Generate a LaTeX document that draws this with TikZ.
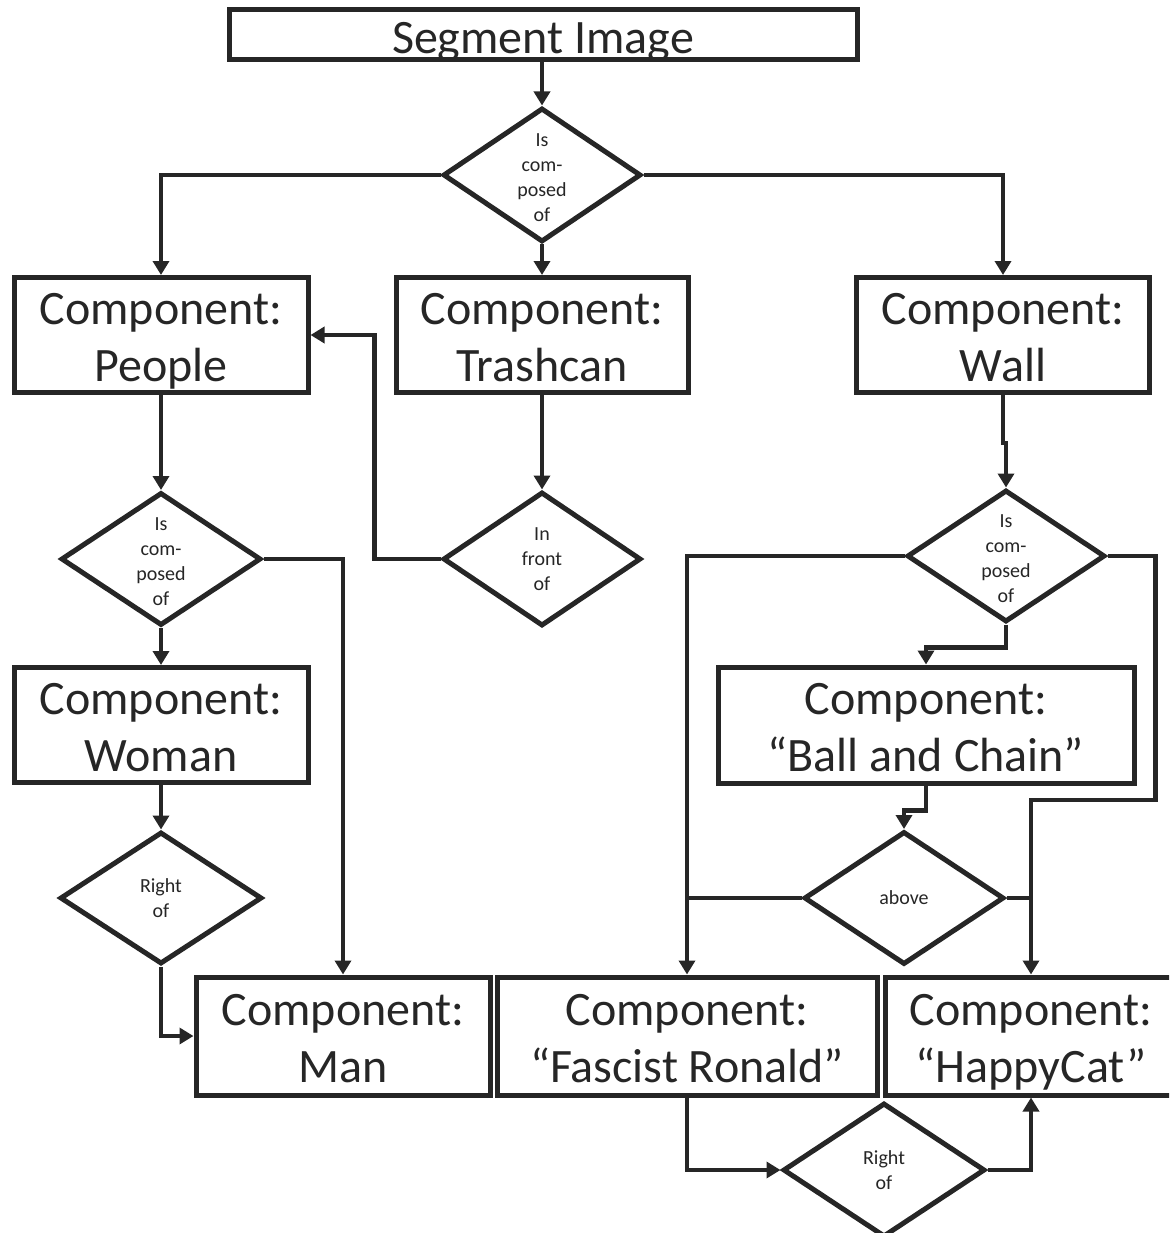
\documentclass[tikz,border=0pt]{standalone}
\usepackage{fontspec}
\setmainfont{Carlito}
\usetikzlibrary{shapes.geometric,arrows.meta,calc}
\definecolor{ink}{RGB}{38,38,38}
\newcommand\boxstrut{\rule[-11pt]{0pt}{45pt}}
\begin{document}
\begin{tikzpicture}[x=1pt,y=-1pt,
  box/.style={draw=ink, line width=5pt, inner sep=0pt},
  btxt/.style={text=ink, align=center, inner sep=0pt, yshift=-8pt,
    font=\fontsize{48}{57}\selectfont,
    execute at begin node=\boxstrut, execute at end node=\boxstrut},
  dia/.style={diamond, draw=ink, line width=5pt, inner sep=0pt},
  dlab/.style={text=ink, align=center, inner sep=0pt, font=\fontsize{20}{25}\selectfont},
  dlabf/.style={dlab, yshift=-3pt},
  conn/.style={draw=ink, line width=4.5pt},
  arr/.style={conn, -{Triangle[length=14pt,width=16pt]}}
]
\useasboundingbox (0,0) rectangle (1169,1233);
\clip (0,0) rectangle (1169,1233);

% boxes
\node[box, minimum width=628pt, minimum height=50pt,
  label={[btxt, yshift=1pt]center:Segment Image}] (seg) at (543,35) {};
\node[box, minimum width=294pt, minimum height=115pt,
  label={[btxt]center:{Component:\\People}}] (people) at (161,335) {};
\node[box, minimum width=292pt, minimum height=115pt,
  label={[btxt]center:{Component:\\Trashcan}}] (trash) at (542,335) {};
\node[box, minimum width=293pt, minimum height=115pt,
  label={[btxt]center:{Component:\\Wall}}] (wall) at (1003,335) {};
\node[box, minimum width=294pt, minimum height=115pt,
  label={[btxt]center:{Component:\\Woman}}] (woman) at (161,725) {};
\node[box, minimum width=416pt, minimum height=116pt,
  label={[btxt]center:{Component:\\``Ball and Chain''}}] (bnc) at (926,725) {};
\node[box, minimum width=294pt, minimum height=118pt,
  label={[btxt]center:{Component:\\Man}}] (man) at (343,1036) {};
\node[box, minimum width=380pt, minimum height=118pt,
  label={[btxt]center:{Component:\\``Fascist Ronald''}}] (fasc) at (687,1036) {};
\node[box, minimum width=292pt, minimum height=118pt,
  label={[btxt]center:{Component:\\``HappyCat''}}] (happy) at (1031,1036) {};

% diamonds
\node[dia, minimum width=198pt, minimum height=134pt,
  label={[dlabf]center:{Is\\com-\\posed\\of}}] (d1) at (542,175) {};
\node[dia, minimum width=200pt, minimum height=133pt,
  label={[dlabf]center:{Is\\com-\\posed\\of}}] (d2) at (161,559) {};
\node[dia, minimum width=198pt, minimum height=134pt,
  label={[dlab]center:{In\\front\\of}}] (d3) at (542,559) {};
\node[dia, minimum width=198pt, minimum height=132pt,
  label={[dlabf]center:{Is\\com-\\posed\\of}}] (d4) at (1006,556) {};
\node[dia, minimum width=202pt, minimum height=132pt,
  label={[dlab]center:{Right\\of}}] (d5) at (161,898) {};
\node[dia, minimum width=200pt, minimum height=133pt,
  label={[dlab]center:{above}}] (d6) at (904,898) {};
\node[dia, minimum width=202pt, minimum height=134pt,
  label={[dlab]center:{Right\\of}}] (d7) at (884,1170) {};

% connectors
\draw[arr] (seg.south -| d1.north) -- (d1.north);
\draw[arr] (d1.west) -| (people.north);
\draw[arr] (d1.south) -- (trash.north);
\draw[arr] (d1.east) -| (wall.north);
\draw[arr] (people.south) -- (d2.north);
\draw[arr] (trash.south) -- (d3.north);
\draw[arr] (wall.south) -- ++(0,48) -| (d4.north);
\draw[arr] (d3.west) -- ++(-66,0) |- (people.east);
\draw[arr] (d2.east) -| (man.north);
\draw[arr] (d2.south) -- (woman.north);
\draw[arr] (woman.south) -- (d5.north);
\draw[arr] (d5.south) |- (man.west);
\draw[arr] (d4.west) -| (fasc.north);
\draw[arr] (d4.east) -- ++(48,0) -- ++(0,244) -| (happy.north);
\draw[arr] (d4.south) -- ++(0,23) -| (bnc.north);
\draw[arr] (bnc.south) -- ++(0,25) -| (d6.north);
\draw[conn] (d6.west) -- (d6.west -| fasc.north);
\draw[conn] (d6.east) -- (d6.east -| happy.north);
\draw[arr] (fasc.south) |- (d7.west);
\draw[arr] (d7.east) -| (happy.south);
\end{tikzpicture}
\end{document}
